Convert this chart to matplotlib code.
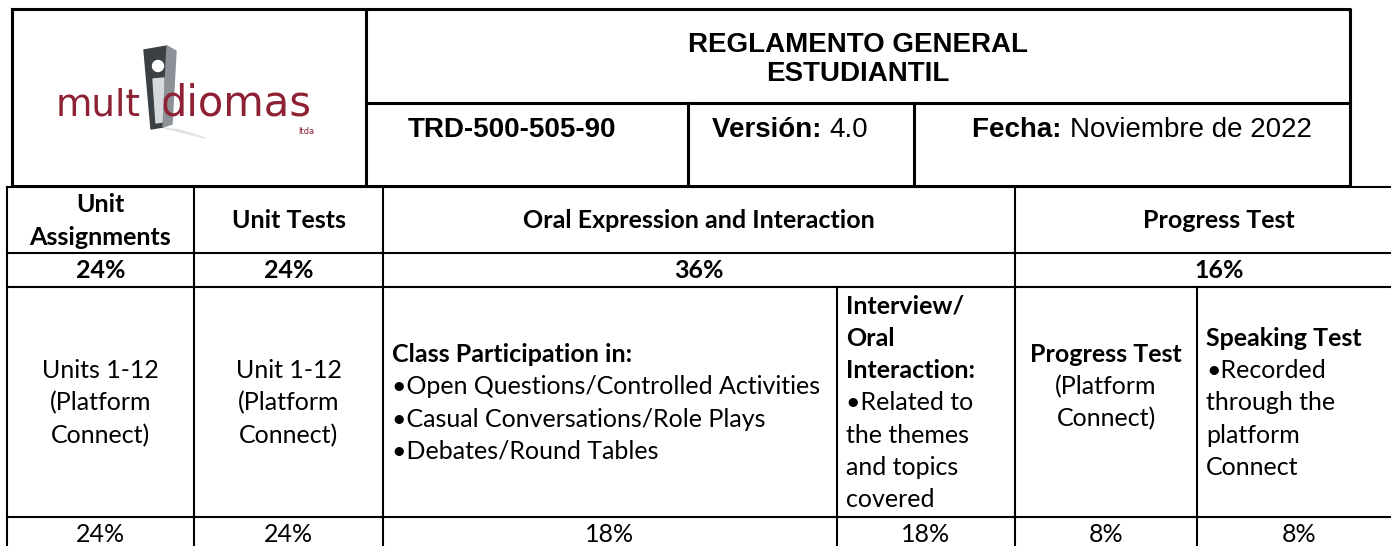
import matplotlib
matplotlib.use("Agg")
import matplotlib.pyplot as plt
from matplotlib.patches import Polygon, Circle

# ---- data -------------------------------------------------------------
doc_title = ["REGLAMENTO GENERAL", "ESTUDIANTIL"]
doc_code = "TRD-500-505-90"
doc_version = "4.0"
doc_date = "Noviembre de 2022"

group_names = [["Unit", "Assignments"], ["Unit Tests"],
               ["Oral Expression and Interaction"], ["Progress Test"]]
group_weights = [24, 24, 36, 16]
group_span = [(0, 1), (1, 2), (2, 4), (4, 6)]   # column-edge index ranges

item_weights = [24, 24, 18, 18, 8, 8]
# each item: list of (line, bold), alignment
item_text = [
    ([("Units 1-12", False), ("(Platform", False), ("Connect)", False)], "center"),
    ([("Unit 1-12", False), ("(Platform", False), ("Connect)", False)], "center"),
    ([("Class Participation in:", True),
      ("•Open Questions/Controlled Activities", False),
      ("•Casual Conversations/Role Plays", False),
      ("•Debates/Round Tables", False)], "left"),
    ([("Interview/", True), ("Oral", True), ("Interaction:", True),
      ("•Related to", False), ("the themes", False), ("and topics", False),
      ("covered", False)], "left"),
    ([("Progress Test", True), ("(Platform", False), ("Connect)", False),
      ("", False)], "center"),
    ([("Speaking Test", True), ("•Recorded", False), ("through the", False),
      ("platform", False), ("Connect", False)], "left"),
]

# ---- layout (pixels) --------------------------------------------------
W, H = 1391, 546
col_x = [7, 194, 383, 837, 1015, 1197, 1410]
row_y = [187, 253, 287, 517, 570]
box_l, box_r, box_t, box_b, box_mid = 12, 1350, 9, 186, 103
logo_r = 366
sub_x = [logo_r, 688, 914, box_r]

body_font = ["Lato", "DejaVu Sans"]
head_font = ["Liberation Sans", "DejaVu Sans"]
body_size = 18
head_size = 20
line_h = 32.2

fig = plt.figure(figsize=(W / 100, H / 100), dpi=100)
ax = fig.add_axes([0, 0, 1, 1])
ax.set_xlim(0, W)
ax.set_ylim(H, 0)
ax.axis("off")
renderer = fig.canvas.get_renderer()

# ---- header box -------------------------------------------------------
hk = dict(color="black", lw=2.2, solid_capstyle="projecting")
ax.plot([box_l, box_r, box_r, box_l, box_l],
        [box_t, box_t, box_b, box_b, box_t], **hk)
ax.plot([logo_r, logo_r], [box_t, box_b], **hk)
ax.plot([logo_r, box_r], [box_mid, box_mid], **hk)
for x in sub_x[1:-1]:
    ax.plot([x, x], [box_mid, box_b], **hk)

title_cx = (logo_r + box_r) / 2
for i, line in enumerate(doc_title):
    ax.text(title_cx, 45 + i * 29, line, ha="center", va="center",
            fontsize=head_size, fontweight="bold", family=head_font)


def mixed_line(cx, cy, pieces, size, family):
    """Draw (text, bold) pieces on one line, centred on cx."""
    texts = []
    for s, b in pieces:
        t = ax.text(0, cy, s, ha="left", va="center", fontsize=size,
                    fontweight="bold" if b else "normal", family=family)
        texts.append(t)
    widths = [t.get_window_extent(renderer).width for t in texts]
    x = cx - sum(widths) / 2
    for t, w in zip(texts, widths):
        t.set_x(x)
        x += w


sub_y = 130
sub_items = [[(doc_code, True)],
             [("Versión: ", True), (doc_version, False)],
             [("Fecha: ", True), (doc_date, False)]]
sub_center = [512, 790, 1142]
for k, pieces in enumerate(sub_items):
    mixed_line(sub_center[k], sub_y, pieces, head_size, head_font)

# ---- logo -------------------------------------------------------------
logo_red = "#8e2234"
logo_font = ["DejaVu Sans"]
ax.text(141, 116, "mult", ha="right", va="baseline", fontsize=27,
        color=logo_red, family=logo_font)
ax.text(161, 116, "diomas", ha="left", va="baseline", fontsize=30,
        color=logo_red, family=logo_font)
ax.text(314, 134, "ltda", ha="right", va="baseline", fontsize=6,
        color=logo_red, family=logo_font)
ax.add_patch(Polygon([(164, 128), (205, 138), (180, 130)], closed=True,
                     color="#e2e2e2", zorder=1))
ax.add_patch(Polygon([(144, 50), (167, 46), (163, 127), (151, 129)],
                     closed=True, color="#3b4045", zorder=2))
ax.add_patch(Polygon([(167, 46), (176, 51), (172, 124), (163, 127)],
                     closed=True, color="#8b9197", zorder=2))
ax.add_patch(Circle((158, 66), 5.5, color="white", zorder=3))
ax.add_patch(Polygon([(153, 79), (164, 78), (162, 122), (156, 123)],
                     closed=True, color="#d6d9dc", zorder=3))

# ---- weights table ----------------------------------------------------
tk = dict(color="black", lw=1.5, solid_capstyle="projecting")
for y in row_y[:4]:
    ax.plot([col_x[0], W + 5], [y, y], **tk)
# verticals spanning all rows
for x in [col_x[0], col_x[1], col_x[2], col_x[4]]:
    ax.plot([x, x], [row_y[0], H + 5], **tk)
# verticals only in detail rows
for x in [col_x[3], col_x[5]]:
    ax.plot([x, x], [row_y[2], H + 5], **tk)


def cell_lines(x, cy, lines, ha):
    n = len(lines)
    for i, (s, bold) in enumerate(lines):
        y = cy + (i - (n - 1) / 2) * line_h
        ax.text(x, y, s, ha=ha, va="center", fontsize=body_size,
                fontweight="bold" if bold else "normal", family=body_font)


head_cy = (row_y[0] + row_y[1]) / 2 + 1
pct_cy = (row_y[1] + row_y[2]) / 2
for name, w, (a, b) in zip(group_names, group_weights, group_span):
    cx = (col_x[a] + col_x[b]) / 2
    if a == 4:
        cx = 1219
    cell_lines(cx, head_cy, [(s, True) for s in name], "center")
    ax.text(cx, pct_cy, f"{w}%", ha="center", va="center",
            fontsize=body_size, fontweight="bold", family=body_font)

body_cy = (row_y[2] + row_y[3]) / 2 + 1
for k, ((lines, align), w) in enumerate(zip(item_text, item_weights)):
    x0, x1 = col_x[k], col_x[k + 1]
    if align == "left":
        cell_lines(x0 + 9, body_cy, lines, "left")
    else:
        cell_lines((x0 + x1) / 2, body_cy, lines, "center")
    cx = (x0 + x1) / 2 if k < 5 else 1299
    ax.text(cx, 534, f"{w}%", ha="center", va="center", fontsize=body_size,
            family=body_font)

fig.savefig("out.png", dpi=100)
